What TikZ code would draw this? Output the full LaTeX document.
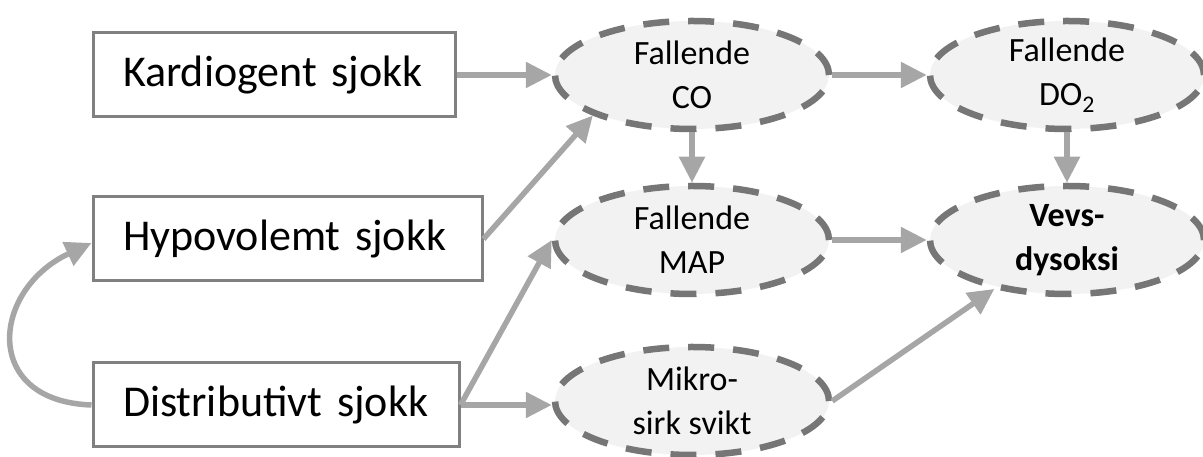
\documentclass[tikz,border=0pt]{standalone}
\usepackage{fontspec}
\setmainfont{Carlito}
\usetikzlibrary{arrows.meta,shapes.geometric}
\definecolor{boxline}{HTML}{808080}
\definecolor{ellline}{HTML}{767676}
\definecolor{ellfill}{HTML}{F2F2F2}
\definecolor{arr}{HTML}{A6A6A6}
\begin{document}
\begin{tikzpicture}[x=1pt,y=1pt,
  shockbox/.style={draw=boxline, line width=3pt, fill=white, minimum height=84pt,
    inner xsep=30pt, inner ysep=0pt, align=left, font=\fontsize{44}{52}\selectfont},
  state/.style={ellipse, draw=ellline, fill=ellfill, line width=6.5pt,
    dash pattern=on 26pt off 19pt, minimum width=274pt, minimum height=108pt,
    inner sep=0pt, align=center, font=\fontsize{34}{44}\selectfont},
  flow/.style={draw=arr, line width=5.5pt, -{Triangle[length=26pt,width=25pt]}},
]
\useasboundingbox (0,0) rectangle (1203,457);

\node[shockbox, text width=302pt] (kard) at (274,382) {Kardiogent sjokk};
\node[shockbox, text width=329pt] (hypo) at (287.5,218) {Hypovolemt sjokk};
\node[shockbox, text width=306pt] (dist) at (276,52) {Distributivt sjokk};

\node[state] (co) at (692,382) {Fallende\\CO};
\node[state] (do2) at (1067,382) {Fallende\\DO\textsubscript{2}};
\node[state] (map) at (692,217) {Fallende\\MAP};
\node[state] (vevs) at (1067,217) {\bfseries Vevs-\\\bfseries dysoksi};
\node[state] (mikro) at (692,56) {Mikro-\\sirk svikt};

\draw[flow] (kard.east) -- (co.west);
\draw[flow] (hypo.east) -- (co.south west);
\draw[flow] (dist.east) -- (map.west);
\draw[flow] (dist.east) -- (dist.east -| mikro.west);
\draw[flow] (co.south) -- (map.north);
\draw[flow] (co.east) -- (do2.west);
\draw[flow] (do2.south) -- (vevs.north);
\draw[flow] (map.east) -- (vevs.west);
\draw[flow] (mikro.east) -- (vevs.214);
\draw[flow] (dist.west) to[out=178,in=205,looseness=1.75] ([yshift=-4pt]hypo.west);
\end{tikzpicture}
\end{document}
